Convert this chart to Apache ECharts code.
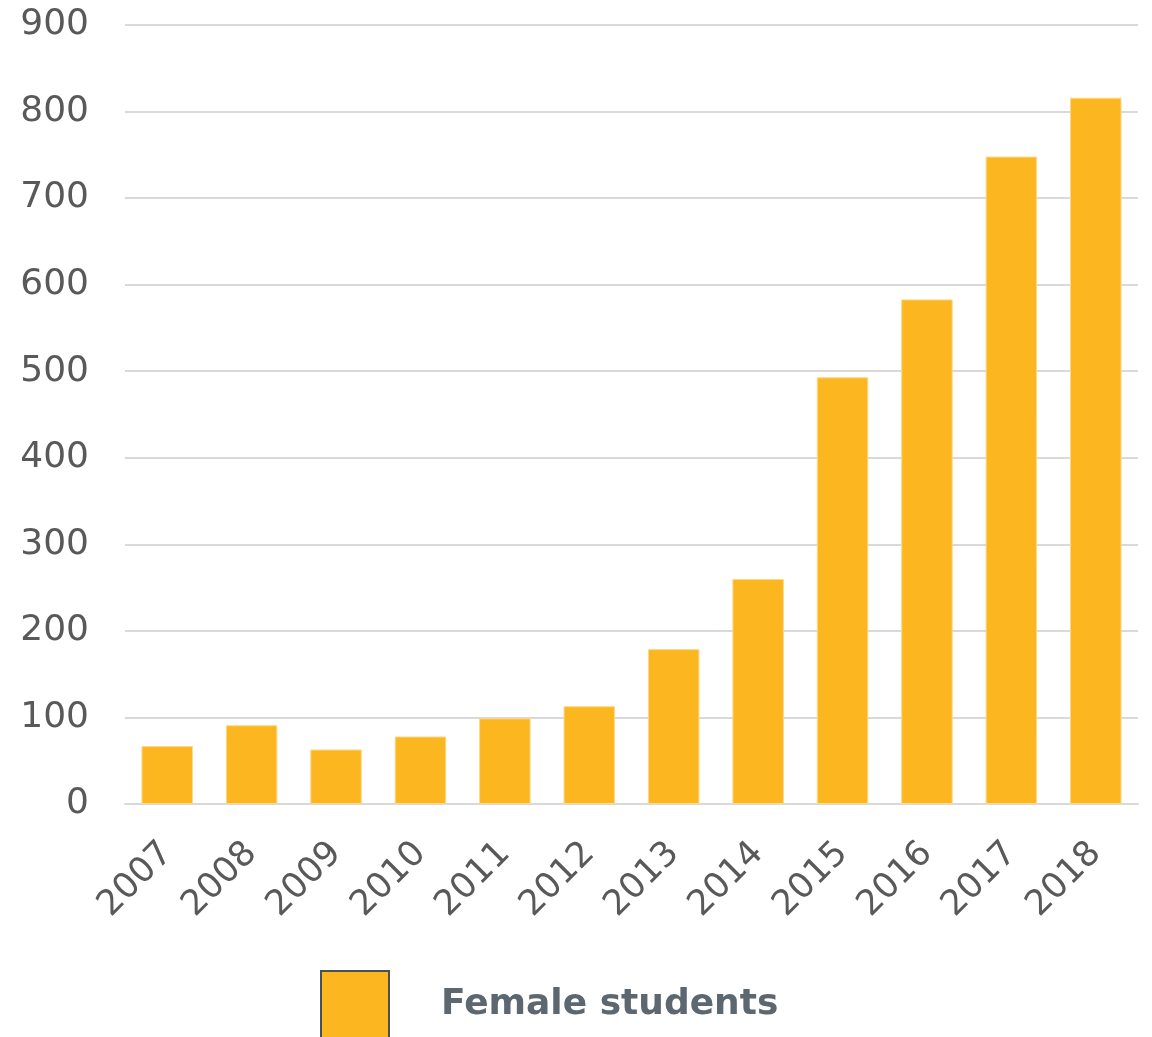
<!DOCTYPE html>
<html>
<head>
<meta charset="utf-8">
<script src="https://cdn.jsdelivr.net/npm/echarts@6/dist/echarts.min.js"></script>
<style>
  html, body { margin: 0; padding: 0; background: #fff; }
  #chart { width: 1152px; height: 1037px; }
</style>
</head>
<body>
<div id="chart"></div>
<script>
// years on the x axis
var years = ['2007', '2008', '2009', '2010', '2011', '2012', '2013', '2014', '2015', '2016', '2017', '2018']
// female students per year
var femaleStudents = [67, 91, 63, 78, 99, 113, 179, 260, 493, 583, 748, 816]
var yMax = 900
var yStep = 100

var chart = echarts.init(document.getElementById('chart'))

var option = {
  animation: false,
  textStyle: { fontFamily: 'DejaVu Sans' },
  grid: {
    left: 125,
    right: 14,
    top: 25,
    bottom: 233
  },
  legend: {
    left: 320,
    top: 970,
    padding: 0,
    itemWidth: 68,
    itemHeight: 68,
    icon: 'rect',
    itemStyle: {
      borderColor: '#4a4f52',
      borderWidth: 2
    },
    textStyle: {
      fontFamily: 'DejaVu Sans',
      fontSize: 36,
      fontWeight: 'bold',
      color: '#5c6770',
      padding: [4, 0, 0, 47]
    },
    data: ['Female students']
  },
  xAxis: {
    type: 'category',
    data: years,
    axisTick: { show: false },
    axisLine: { lineStyle: { color: '#d9d9d9', width: 2 } },
    axisLabel: {
      rotate: 45,
      margin: 44,
      fontSize: 35,
      color: '#595959',
      fontFamily: 'DejaVu Sans'
    }
  },
  yAxis: {
    type: 'value',
    min: 0,
    max: yMax,
    interval: yStep,
    axisLine: { show: false },
    axisTick: { show: false },
    splitLine: { lineStyle: { color: '#d9d9d9', width: 2 } },
    axisLabel: {
      margin: 36,
      fontSize: 36,
      color: '#595959',
      fontFamily: 'DejaVu Sans'
    }
  },
  series: [
    {
      name: 'Female students',
      type: 'bar',
      barCategoryGap: '39%',
      itemStyle: {
        color: '#fbb620',
        borderColor: '#fdd98a',
        borderWidth: 1
      },
      data: femaleStudents
    }
  ]
}
chart.setOption(option)
</script>
</body>
</html>
